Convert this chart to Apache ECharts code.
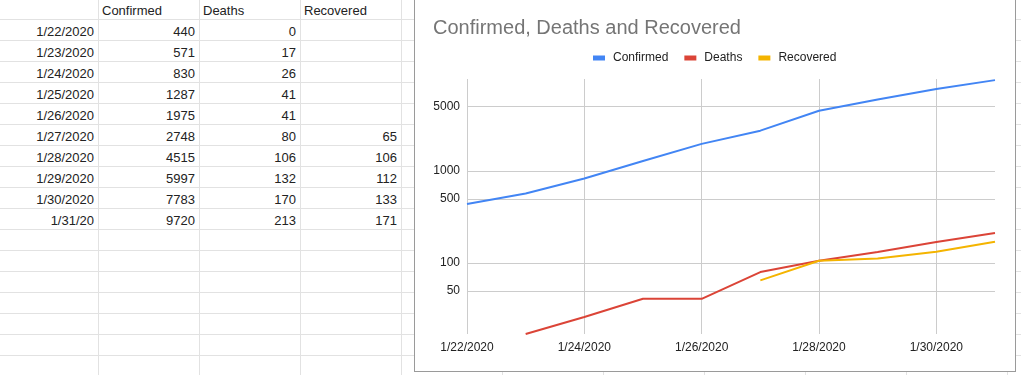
<!DOCTYPE html>
<html><head><meta charset="utf-8">
<script src="https://cdn.jsdelivr.net/npm/echarts@6/dist/echarts.min.js"></script>
<style>
html,body{margin:0;padding:0;width:1021px;height:375px;overflow:hidden;background:#fff;font-family:"Liberation Sans",Arial,sans-serif;}
#sheet{position:absolute;left:0;top:0;width:1021px;height:375px;}
.vl{position:absolute;top:0;width:1px;height:375px;background:#e2e2e2;}
.hl{position:absolute;left:0;width:1021px;height:1px;background:#e2e2e2;}
.cell{position:absolute;height:20px;line-height:20px;font-size:13px;color:#222;white-space:nowrap;}
#box{position:absolute;left:414px;top:-10px;width:602px;height:382px;box-sizing:border-box;border:1px solid #9a9a9a;background:#fff;}
#chart{position:absolute;left:0;top:0;width:1021px;height:375px;}
</style></head><body>
<div id="sheet"></div><div id="box"></div><div id="chart"></div>
<script>
const dates = ['1/22/2020','1/23/2020','1/24/2020','1/25/2020','1/26/2020','1/27/2020','1/28/2020','1/29/2020','1/30/2020','1/31/20'];
const confirmed = [440,571,830,1287,1975,2748,4515,5997,7783,9720];
const deaths = [0,17,26,41,41,80,106,132,170,213];
const recovered = [null,null,null,null,null,65,106,112,133,171];
const headers = ['Confirmed','Deaths','Recovered'];
const seriesNames = ['Confirmed','Deaths','Recovered'];
const seriesColors = ['#4285f4','#db4437','#f4b400'];
const yTicks = [50,100,500,1000,5000];

// ---- spreadsheet grid ----
const sheet = document.getElementById('sheet');
const colLines = [];
for (let x = 98; x < 1021; x += 101) colLines.push(x);
const rowLines = [];
for (let y = 19; y < 375; y += 21) rowLines.push(y);
colLines.forEach(x => { const d = document.createElement('div'); d.className = 'vl'; d.style.left = x + 'px'; sheet.appendChild(d); });
rowLines.forEach(y => { const d = document.createElement('div'); d.className = 'hl'; d.style.top = y + 'px'; sheet.appendChild(d); });
function cell(text, col, row, align) {
  const left = col === 0 ? -3 : colLines[col - 1] + 1;
  const right = colLines[col];
  const top = (row === 0 ? -2 : rowLines[row - 1]) + 3;
  const d = document.createElement('div');
  d.className = 'cell';
  d.textContent = text;
  d.style.top = top + 'px';
  if (align === 'right') { d.style.left = left + 'px'; d.style.width = (right - left - 4) + 'px'; d.style.textAlign = 'right'; }
  else { d.style.left = (left + 3) + 'px'; }
  sheet.appendChild(d);
}
headers.forEach((h, i) => cell(h, i + 1, 0, 'left'));
dates.forEach((dt, i) => {
  cell(dt, 0, i + 1, 'right');
  cell(String(confirmed[i]), 1, i + 1, 'right');
  cell(String(deaths[i]), 2, i + 1, 'right');
  if (recovered[i] != null) cell(String(recovered[i]), 3, i + 1, 'right');
});

// ---- chart ----
const logSafe = arr => arr.map(v => (v == null || v <= 0) ? null : v);
const seriesData = [confirmed, deaths, recovered];
const chart = echarts.init(document.getElementById('chart'), null, {renderer: 'canvas'});
chart.setOption({
  animation: false,
  textStyle: {fontFamily: '"Liberation Sans", Arial, sans-serif'},
  title: {text: 'Confirmed, Deaths and Recovered', left: 433, top: 18, padding: 0,
    textStyle: {fontSize: 20, fontWeight: 'normal', color: '#757575'}},
  legend: {left: 593, top: 52, padding: 0, itemWidth: 12, itemHeight: 5, itemGap: 16, icon: 'rect',
    textStyle: {fontSize: 12, color: '#222', padding: [0, 0, 0, 3]}, data: seriesNames},
  grid: {left: 467, right: 26, top: 79, bottom: 41},
  xAxis: {type: 'category', data: dates, boundaryGap: false,
    axisLine: {show: false}, axisTick: {show: false},
    axisLabel: {interval: 1, margin: 8, fontSize: 12, color: '#222'},
    splitLine: {show: true, interval: 1, lineStyle: {color: '#cccccc'}}},
  yAxis: {type: 'log', min: 17, max: 10000,
    axisLine: {show: false}, axisTick: {show: false, customValues: yTicks},
    axisLabel: {customValues: yTicks, fontSize: 12, color: '#222', margin: 7,
      formatter: v => String(Math.round(v))},
    splitLine: {show: true, lineStyle: {color: '#cccccc'}}},
  series: seriesNames.map((n, i) => ({
    name: n, type: 'line', data: logSafe(seriesData[i]), showSymbol: false, symbol: 'none',
    connectNulls: false, color: seriesColors[i], lineStyle: {width: 2, color: seriesColors[i]}
  }))
});
</script>
</body></html>
